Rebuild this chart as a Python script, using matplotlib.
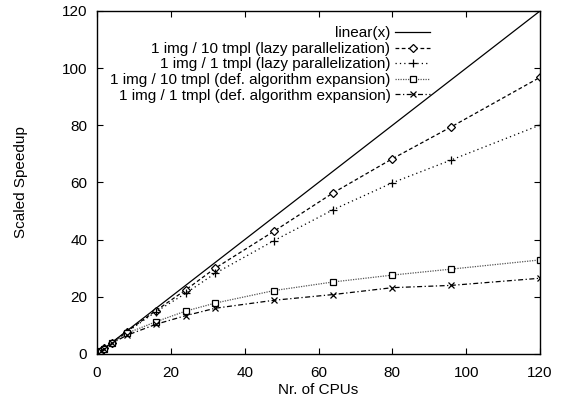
import numpy as np
import matplotlib
matplotlib.use("Agg")
import matplotlib.pyplot as plt

plt.rcParams['font.family'] = ['Liberation Sans', 'DejaVu Sans']
plt.rcParams['font.size'] = 11

# data
cpus = [1, 2, 4, 8, 16, 24, 32, 48, 64, 80, 96, 120]
lazy_10 = [1, 2, 3.9, 7.8, 15.2, 22.4, 30.0, 43.0, 56.4, 68.3, 79.5, 96.8]
lazy_1 = [1, 2, 3.9, 7.6, 14.8, 21.2, 28.2, 39.7, 50.5, 59.9, 67.9, 80.1]
def_10 = [1, 1.9, 3.8, 7.2, 11.3, 15.0, 17.8, 22.2, 25.2, 27.6, 29.7, 32.9]
def_1 = [1, 1.9, 3.7, 6.5, 10.4, 13.4, 16.0, 18.8, 20.8, 23.2, 24.0, 26.5]

labels = ['linear(x)',
          '1 img / 10 tmpl (lazy parallelization)',
          '1 img / 1 tmpl (lazy parallelization)',
          '1 img / 10 tmpl (def. algorithm expansion)',
          '1 img / 1 tmpl (def. algorithm expansion)']

x_range = [0, 120]
y_range = [0, 120]
tick_step = 20

fig = plt.figure(figsize=(5.65, 3.98), dpi=100)
ax = fig.add_axes([0.1717, 0.1106, 0.7841, 0.8618])

lw = 0.9
xs = np.array(x_range)
ax.plot(xs, xs, color='black', lw=lw, label=labels[0])
ax.plot(cpus, lazy_10, color='black', lw=lw, dashes=(3, 2),
        marker='D', ms=3.6, mfc='white', mec='black', mew=0.9, label=labels[1])
ax.plot(cpus, lazy_1, color='black', lw=lw, dashes=(1, 2.5),
        marker='+', ms=6, mew=0.9, label=labels[2])
ax.plot(cpus, def_10, color='#555555', lw=lw, dashes=(1, 1),
        marker='s', ms=4.5, mfc='white', mec='black', mew=0.9, label=labels[3])
ax.plot(cpus, def_1, color='black', lw=lw, dashes=(4, 2, 1, 2),
        marker='x', ms=4.5, mew=0.9, label=labels[4])

ax.set_xlim(*x_range)
ax.set_ylim(*y_range)
ax.set_xticks(np.arange(x_range[0], x_range[1] + 1, tick_step))
ax.set_yticks(np.arange(y_range[0], y_range[1] + 1, tick_step))
ax.tick_params(direction='in', top=True, right=True, length=4, width=0.8)
ax.tick_params(axis='x', pad=9)
ax.tick_params(axis='y', pad=7)
for s in ax.spines.values():
    s.set_linewidth(1.0)

ax.set_xlabel('Nr. of CPUs', labelpad=1.5)
ax.set_ylabel('Scaled Speedup', labelpad=24)

leg = ax.legend(loc='upper right', bbox_to_anchor=(0.752, 0.955),
                frameon=False, markerfirst=False, numpoints=1,
                handlelength=2.3, handletextpad=0.3, labelspacing=0.1,
                borderpad=0, borderaxespad=0)

fig.savefig('out.png', dpi=100)
